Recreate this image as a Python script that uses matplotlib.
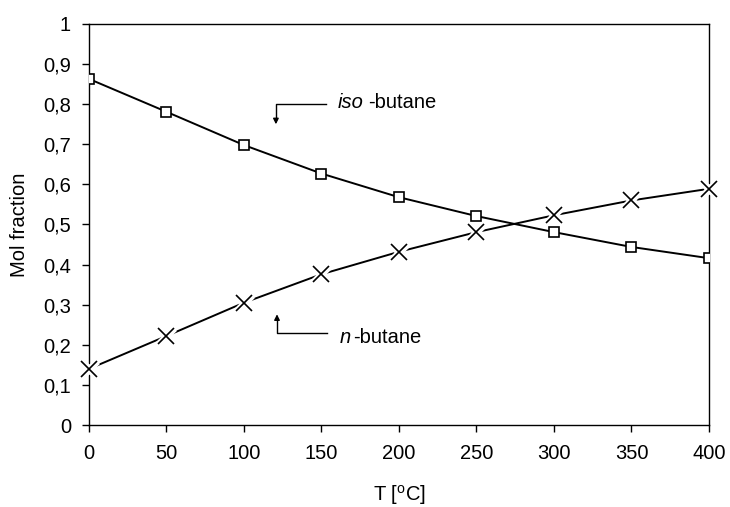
import numpy as np
import matplotlib.pyplot as plt

plt.rcParams['font.family'] = ['Liberation Sans', 'DejaVu Sans']

T = [0, 50, 100, 150, 200, 250, 300, 350, 400]
iso = [0.863, 0.781, 0.698, 0.627, 0.568, 0.521, 0.481, 0.444, 0.416]
nbut = [0.140, 0.222, 0.305, 0.376, 0.432, 0.481, 0.523, 0.560, 0.589]
yticks = [0, 0.1, 0.2, 0.3, 0.4, 0.5, 0.6, 0.7, 0.8, 0.9, 1]
ylabels = ['0', '0,1', '0,2', '0,3', '0,4', '0,5', '0,6', '0,7', '0,8', '0,9', '1']

fs = 14.5

fig = plt.figure(figsize=(7.3, 5.07), dpi=100)
ax = fig.add_axes([0.1219, 0.1617, 0.8493, 0.791])

ax.plot(T, iso, color='black', lw=1.4, marker='s', ms=7, mfc='white', mec='black', mew=1.2, zorder=3)
ax.plot(T, nbut, color='black', lw=1.4, zorder=2)
# white halo behind the crosses so the line breaks around them
ax.plot(T, nbut, ls='none', marker='x', ms=12, mec='white', mew=5, zorder=3, clip_on=False)
ax.plot(T, nbut, ls='none', marker='x', ms=11, mec='black', mew=1.2, zorder=4, clip_on=False)

ax.set_xlim(0, 400)
ax.set_ylim(0, 1)
ax.set_xticks(T)
ax.set_yticks(yticks)
ax.set_yticklabels(ylabels)
ax.tick_params(direction='out', length=5, width=1, labelsize=fs)
ax.tick_params(axis='x', pad=9)
ax.tick_params(axis='y', pad=8)
for s in ax.spines.values():
    s.set_linewidth(1)

ax.set_xlabel('T [$\\mathregular{^oC}$]', fontsize=fs, labelpad=14)
ax.set_ylabel('Mol fraction', fontsize=fs, labelpad=10)

# annotations
ax.plot([152.9, 120.6, 120.6], [0.800, 0.800, 0.760], color='black', lw=1)
ax.annotate('', xy=(120.6, 0.743), xytext=(120.6, 0.765),
            arrowprops=dict(arrowstyle='-|>', color='black', lw=1, mutation_scale=8))
ax.text(160.6, 0.803, 'iso', style='italic', fontsize=fs, va='center')
ax.text(180, 0.803, '-butane', fontsize=fs, va='center')

ax.plot([153.5, 121.3, 121.3], [0.229, 0.229, 0.265], color='black', lw=1)
ax.annotate('', xy=(121.3, 0.283), xytext=(121.3, 0.260),
            arrowprops=dict(arrowstyle='-|>', color='black', lw=1, mutation_scale=8))
ax.text(161.5, 0.219, 'n', style='italic', fontsize=fs, va='center')
ax.text(170.5, 0.219, '-butane', fontsize=fs, va='center')

fig.savefig('out.png', dpi=100)
